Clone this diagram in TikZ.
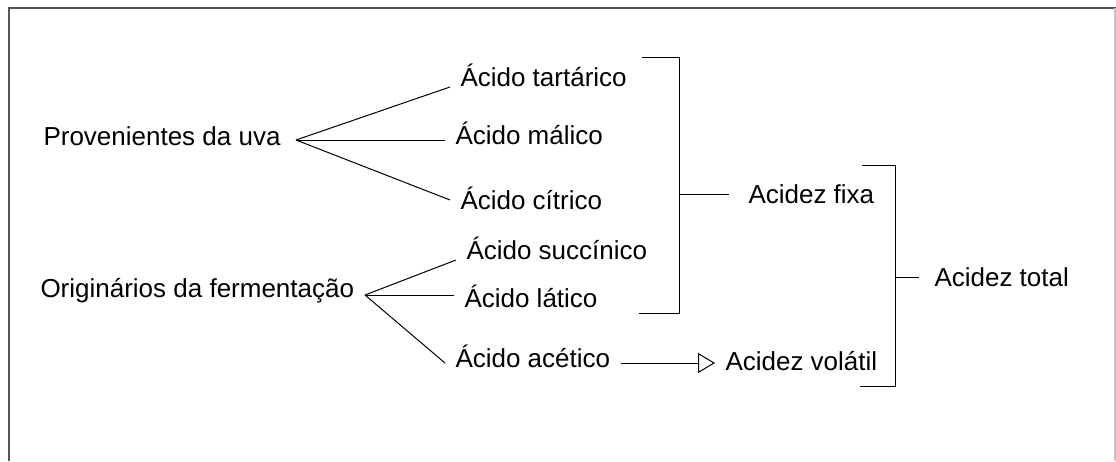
\documentclass[tikz,border=0pt]{standalone}
\usepackage{fontspec}
\setmainfont{Liberation Sans}
\usepackage{tikz}
\usetikzlibrary{arrows.meta, calc}
\definecolor{framedark}{RGB}{85, 85, 85}
\definecolor{framelight}{RGB}{195, 195, 195}

\begin{document}
\begin{tikzpicture}[x=1pt, y=-1pt, line width=1pt,
    acid/.style={font=\fontsize{26}{30}\selectfont, inner xsep=10pt, inner ysep=0pt,
                 text height=19pt, text depth=0pt, anchor=south west}]
    \useasboundingbox (0,0) rectangle (1116,461);

    % Frame
    \draw[framedark, line width=2pt] (9,461) -- (9,8) -- (1116,8);
    \draw[framelight, line width=2pt] (1115,8) -- (1115,461);

    % Origins
    \node[acid] (uva) at (33,146) {Provenientes da uva};
    \node[acid] (ferm) at (30,298) {Originários da fermentação};
    \coordinate (uvafork) at (296,140);
    \coordinate (fermfork) at (365,295);

    % Acids
    \node[acid] (tart) at (450,87) {Ácido tartárico};
    \node[acid] (mal) at (445,145) {Ácido málico};
    \node[acid] (cit) at (450,210) {Ácido cítrico};
    \node[acid] (succ) at (456,260) {Ácido succínico};
    \node[acid] (lat) at (454,308) {Ácido lático};
    \node[acid] (acet) at (445,368) {Ácido acético};

    % Acidity groups
    \node[acid] (fixa) at (738,204) {Acidez fixa};
    \node[acid] (volatil) at (715,371) {Acidez volátil};
    \node[acid] (total) at (924,287) {Acidez total};

    % Fork lines
    \draw (uvafork) -- (tart.south west);
    \draw (uvafork) -- (uvafork -| mal.west);
    \draw (uvafork) -- (cit.west);
    \draw (fermfork) -- (succ.south west);
    \draw (fermfork) -- (fermfork -| lat.west);
    \draw (fermfork) -- ($(acet.west)!0.5!(acet.south west)$);

    % Acetic to volatile
    \coordinate (arrstart) at ($(acet.east)!0.5!(acet.south east)$);
    \draw[-{Triangle[open, length=17pt, width=20pt]}] (arrstart) -- (volatil.west |- arrstart);

    % Bracket fixed acidity
    \coordinate (fixtop) at (679,57);
    \coordinate (fixbot) at (679,313);
    \draw (642,57) -- (fixtop) -- (fixbot) -- (639,313);
    \draw (fixtop |- fixa.west) -- ([xshift=-9pt]fixa.west);

    % Bracket total acidity
    \coordinate (tottop) at (895,165);
    \coordinate (totbot) at (895,386);
    \draw (862,165) -- (tottop) -- (totbot) -- (860,386);
    \draw (tottop |- total.west) -- ([xshift=-5pt]total.west);
\end{tikzpicture}
\end{document}
